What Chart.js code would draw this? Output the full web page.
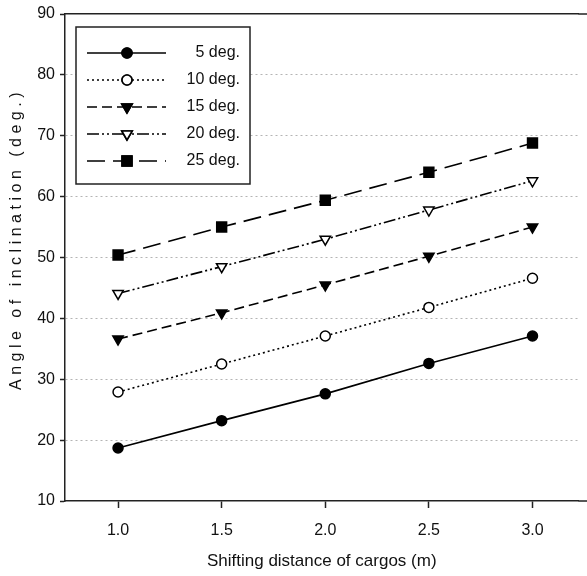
<!DOCTYPE html>
<html>
<head>
<meta charset="utf-8">
<script src="https://cdn.jsdelivr.net/npm/chart.js@4/dist/chart.umd.min.js"></script>
<style>
  html, body { margin: 0; padding: 0; background: #fff; }
  #wrap { width: 587px; height: 576px; }
</style>
</head>
<body>
<div id="wrap"><canvas id="c" width="587" height="576"></canvas></div>
<script>
const FONT = "'Liberation Sans', Arial, sans-serif";

const distances = [1.0, 1.5, 2.0, 2.5, 3.0];
const seriesNames = ["5 deg.", "10 deg.", "15 deg.", "20 deg.", "25 deg."];
const deg5 = [18.7, 23.2, 27.6, 32.6, 37.1];
const deg10 = [27.9, 32.5, 37.1, 41.8, 46.6];
const deg15 = [36.6, 40.9, 45.5, 50.2, 55.0];
const deg20 = [44.1, 48.5, 53.0, 57.8, 62.6];
const deg25 = [50.4, 55.0, 59.4, 64.0, 68.8];
const xTicks = [1.0, 1.5, 2.0, 2.5, 3.0];
const yTicks = [10, 20, 30, 40, 50, 60, 70, 80, 90];

const styles = [
  { dash: [], style: "circle", fill: "#000", radius: 5, rot: 0 },
  { dash: [2, 3], style: "circle", fill: "#fff", radius: 5, rot: 0 },
  { dash: [10, 5], style: "triangle", fill: "#000", radius: 6, rot: 180 },
  { dash: [12, 3, 2, 3, 2, 3], style: "triangle", fill: "#fff", radius: 6, rot: 180 },
  { dash: [18, 8], style: "rect", fill: "#000", radius: 7, rot: 0 }
];

const allSeries = [deg5, deg10, deg15, deg20, deg25];

const datasets = allSeries.map((vals, i) => ({
  label: seriesNames[i],
  data: distances.map((d, j) => ({ x: d, y: vals[j] })),
  borderColor: "#000",
  borderWidth: 1.6,
  borderDash: styles[i].dash,
  pointStyle: styles[i].style,
  pointRadius: styles[i].radius,
  pointRotation: styles[i].rot,
  pointBackgroundColor: styles[i].fill,
  pointBorderColor: "#000",
  pointBorderWidth: 1.5,
  showLine: true,
  fill: false,
  tension: 0
}));

// boxed legend drawn in the upper left of the plot
const boxLegend = {
  id: "boxLegend",
  afterDatasetsDraw(chart) {
    const ctx = chart.ctx;
    const x0 = 76, y0 = 27, w = 174, h = 157;
    ctx.save();
    ctx.fillStyle = "#fff";
    ctx.fillRect(x0, y0, w, h);
    ctx.strokeStyle = "#222";
    ctx.lineWidth = 1.5;
    ctx.strokeRect(x0, y0, w, h);
    chart.data.datasets.forEach((ds, i) => {
      const y = 53 + i * 27;
      ctx.setLineDash(ds.borderDash);
      ctx.lineWidth = 1.6;
      ctx.strokeStyle = "#000";
      ctx.beginPath();
      ctx.moveTo(87, y);
      ctx.lineTo(166, y);
      ctx.stroke();
      ctx.setLineDash([]);
      Chart.helpers.drawPoint(ctx, {
        pointStyle: ds.pointStyle,
        radius: ds.pointRadius,
        rotation: ds.pointRotation,
        borderWidth: 1.5
      }, 127, y);
      ctx.fillStyle = ds.pointBackgroundColor;
      ctx.fill();
      ctx.stroke();
      ctx.fillStyle = "#111";
      ctx.font = "16px " + FONT;
      ctx.textAlign = "right";
      ctx.textBaseline = "middle";
      ctx.fillText(ds.label, 240, y);
    });
    ctx.restore();
  }
};

// spaced-out y axis title, and the frame lines running on to the right edge
const yTitle = {
  id: "yTitle",
  afterDraw(chart) {
    const ctx = chart.ctx;
    const a = chart.chartArea;
    ctx.save();
    ctx.strokeStyle = "#222";
    ctx.lineWidth = 1.5;
    ctx.beginPath();
    ctx.moveTo(a.right, a.top);
    ctx.lineTo(chart.width, a.top);
    ctx.moveTo(a.right, a.bottom);
    ctx.lineTo(chart.width, a.bottom);
    ctx.stroke();
    ctx.translate(17, 239);
    ctx.rotate(-Math.PI / 2);
    ctx.font = "16px " + FONT;
    ctx.letterSpacing = "4.5px";
    ctx.fillStyle = "#111";
    ctx.textAlign = "center";
    ctx.textBaseline = "middle";
    ctx.fillText("Angle of inclination (deg.)", 0, 0);
    ctx.restore();
  }
};

new Chart(document.getElementById("c"), {
  type: "scatter",
  data: { datasets },
  plugins: [boxLegend, yTitle],
  options: {
    responsive: false,
    animation: false,
    layout: { padding: { top: 14, right: 1, left: 0, bottom: 0 } },
    plugins: {
      legend: { display: false },
      tooltip: { enabled: false }
    },
    scales: {
      x: {
        type: "linear",
        position: "bottom",
        min: 0.744,
        max: 3.222,
        afterBuildTicks: s => { s.ticks = xTicks.map(v => ({ value: v })); },
        afterFit: s => { s.height = 75; s.paddingLeft = 0; s.paddingRight = 0; },
        grid: { drawOnChartArea: false, tickLength: 7, tickColor: "#222", tickWidth: 1.5 },
        border: { color: "#222", width: 1.5 },
        ticks: {
          color: "#111",
          padding: 13,
          font: { family: FONT, size: 16 },
          callback: v => Number(v).toFixed(1)
        },
        title: {
          display: true,
          text: "Shifting distance of cargos (m)",
          color: "#111",
          font: { family: FONT, size: 17 },
          padding: { top: 0, bottom: 4 }
        }
      },
      x2: {
        type: "linear",
        position: "top",
        min: 0.744,
        max: 3.222,
        afterFit: s => { s.height = 0; s.paddingLeft = 0; s.paddingRight = 0; },
        ticks: { display: false },
        grid: { drawOnChartArea: false, drawTicks: false },
        border: { color: "#222", width: 1.5 }
      },
      y: {
        min: 10,
        max: 90,
        afterBuildTicks: s => { s.ticks = yTicks.map(v => ({ value: v })); },
        afterFit: s => { s.width = 65; s.paddingTop = 0; s.paddingBottom = 0; },
        grid: {
          color: c => (c.tick && (c.tick.value === 10 || c.tick.value === 90)) ? "rgba(0,0,0,0)" : "#b4b4b4",
          lineWidth: 1,
          tickLength: 5,
          tickColor: "#222",
          tickWidth: 1.5,
          tickBorderDash: []
        },
        border: { color: "#222", width: 1.5, dash: [2, 3] },
        ticks: {
          color: "#111",
          padding: 5,
          font: { family: FONT, size: 16 }
        }
      }
    }
  }
});
</script>
</body>
</html>
